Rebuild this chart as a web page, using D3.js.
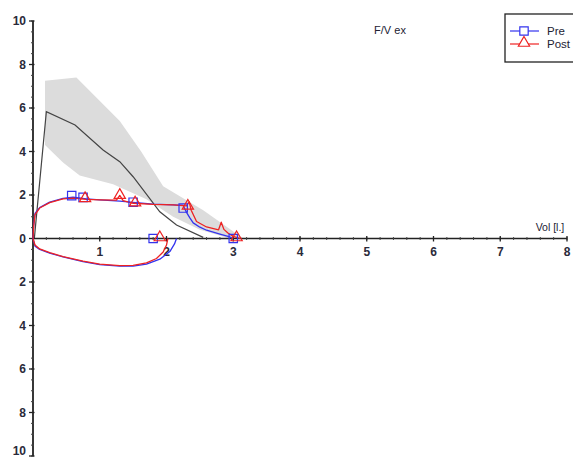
<!DOCTYPE html>
<html>
<head>
<meta charset="utf-8">
<script src="https://cdn.jsdelivr.net/npm/d3@7/dist/d3.min.js"></script>
<style>
  html, body { margin: 0; padding: 0; background: #fff; }
  svg { display: block; }
  text { font-family: "Liberation Sans", Arial, sans-serif; }
</style>
</head>
<body>
<svg id="chart" width="573" height="459"></svg>
<script>
// ---- Data ----
const xTicks = [1, 2, 3, 4, 5, 6, 7, 8];
const yTicks = [-10, -8, -6, -4, -2, 0, 2, 4, 6, 8, 10];

// predicted range band (upper edge left->right, lower edge right->left)
const bandUpperVol  = [0.18, 0.65, 1.3, 1.62, 1.95, 2.55, 3.15];
const bandUpperFlow = [7.25, 7.4, 5.4, 4.0, 2.4, 1.3, 0.0];
const bandLowerVol  = [2.95, 2.5, 2.1, 1.7, 1.2, 0.7, 0.45, 0.18];
const bandLowerFlow = [0.0, 0.4, 1.0, 1.8, 2.5, 2.9, 3.5, 4.3];

// predicted curve
const predVol  = [0.02, 0.2, 0.63, 1.05, 1.3, 1.5, 1.9, 2.15, 2.55];
const predFlow = [0.0, 5.83, 5.22, 4.07, 3.53, 2.84, 1.23, 0.62, 0.05];

// Pre (blue) loop: expiration then inspiration
const preExpVol  = [0, 0.01, 0.03, 0.1, 0.25, 0.45, 0.6, 0.8, 1.0, 1.3, 1.5, 1.8, 2.1, 2.25, 2.3, 2.35, 2.4, 2.5, 2.6, 2.8, 2.95, 3.0];
const preExpFlow = [0, 0.6, 1.15, 1.42, 1.67, 1.84, 1.9, 1.82, 1.78, 1.72, 1.66, 1.58, 1.55, 1.52, 1.2, 0.95, 0.72, 0.52, 0.38, 0.2, 0.07, 0];
const preInsVol  = [0, 0.03, 0.1, 0.25, 0.45, 0.75, 1.0, 1.3, 1.5, 1.7, 1.9, 2.05, 2.12, 2.15];
const preInsFlow = [0, -0.35, -0.5, -0.67, -0.85, -1.06, -1.2, -1.27, -1.27, -1.18, -0.95, -0.6, -0.25, 0];

// Post (red) loop
const postExpVol  = [0, 0.01, 0.03, 0.1, 0.25, 0.45, 0.6, 0.8, 1.0, 1.25, 1.3, 1.35, 1.5, 1.8, 2.1, 2.3, 2.34, 2.37, 2.45, 2.6, 2.78, 2.82, 2.86, 2.92, 3.0, 3.1];
const postExpFlow = [0, 0.55, 1.1, 1.4, 1.65, 1.82, 1.86, 1.8, 1.78, 1.76, 1.98, 1.74, 1.62, 1.57, 1.55, 1.5, 1.68, 1.3, 0.78, 0.53, 0.4, 0.75, 0.42, 0.25, 0.1, 0];
const postInsVol  = [0, 0.03, 0.1, 0.25, 0.45, 0.75, 1.0, 1.3, 1.5, 1.7, 1.85, 1.95, 2.0, 2.02];
const postInsFlow = [0, -0.3, -0.48, -0.65, -0.83, -1.04, -1.18, -1.25, -1.24, -1.12, -0.92, -0.62, -0.3, 0];

// markers
const preMarkVol   = [0.58, 0.75, 1.5, 2.25, 1.8, 3.0];
const preMarkFlow  = [1.97, 1.89, 1.67, 1.4, 0, 0];
const postMarkVol  = [0.78, 1.3, 1.53, 2.32, 1.9, 3.05];
const postMarkFlow = [1.8, 1.95, 1.6, 1.45, 0, 0];

const seriesNames = ["Pre", "Post"];
const seriesColors = ["#3333ee", "#ee2222"];
const titleText = "F/V ex";
const xAxisLabel = "Vol [l.]";

// ---- Chart ----
const svg = d3.select("#chart");
const x = d3.scaleLinear().domain([0, 8]).range([33, 567]);
const y = d3.scaleLinear().domain([-10, 10]).range([456, 21]);
const zip = (a, b) => a.map((v, i) => [v, b[i]]);
const line = d3.line().x(d => x(d[0])).y(d => y(d[1]));

// band
const bandPts = zip(bandUpperVol, bandUpperFlow).concat(zip(bandLowerVol, bandLowerFlow));
svg.append("path").attr("d", line(bandPts) + "Z").attr("fill", "#dcdcdc").attr("stroke", "none");

// predicted
svg.append("path").attr("d", line(zip(predVol, predFlow)))
  .attr("fill", "none").attr("stroke", "#444").attr("stroke-width", 1.2);

// axes
const fmt = d => String(Math.abs(d));
const xAxis = svg.append("g").attr("transform", `translate(0,${y(0)})`);
xAxis.append("line").attr("x1", x(0)).attr("x2", x(8)).attr("stroke", "#222").attr("stroke-width", 1.6);
xAxis.selectAll(".minor").data(d3.range(0, 8.001, 0.2)).join("line")
  .attr("x1", d => x(d)).attr("x2", d => x(d)).attr("y1", -1.5).attr("y2", 1.5)
  .attr("stroke", "#444").attr("stroke-width", 1);
xAxis.selectAll(".major").data(xTicks).join("line")
  .attr("x1", d => x(d)).attr("x2", d => x(d)).attr("y1", -2.5).attr("y2", 3)
  .attr("stroke", "#222").attr("stroke-width", 1.3);
xAxis.selectAll(".lbl").data(xTicks).join("text")
  .attr("x", d => x(d)).attr("y", 17).attr("text-anchor", "middle")
  .attr("font-size", 12).attr("font-weight", "bold").attr("fill", "#2a2a3a").text(fmt);

const yAxis = svg.append("g").attr("transform", `translate(${x(0)},0)`);
yAxis.append("line").attr("y1", y(10)).attr("y2", y(-10)).attr("stroke", "#222").attr("stroke-width", 1.8);
yAxis.selectAll(".minor").data(d3.range(-10, 10.001, 0.5)).join("line")
  .attr("y1", d => y(d)).attr("y2", d => y(d)).attr("x1", -2).attr("x2", 1)
  .attr("stroke", "#444").attr("stroke-width", 1);
yAxis.selectAll(".major").data(yTicks).join("line")
  .attr("y1", d => y(d)).attr("y2", d => y(d)).attr("x1", -4).attr("x2", 1.5)
  .attr("stroke", "#222").attr("stroke-width", 1.3);
yAxis.selectAll(".lbl").data(yTicks).join("text")
  .attr("x", -7).attr("y", d => Math.min(y(d) + 4, 455)).attr("text-anchor", "end")
  .attr("font-size", 12).attr("font-weight", "bold").attr("fill", "#2a2a3a").text(fmt);

// loops
function drawSeries(parts, color) {
  parts.forEach(p => {
    svg.append("path").attr("d", line(p)).attr("fill", "none")
      .attr("stroke", color).attr("stroke-width", 1.3).attr("stroke-linejoin", "round");
  });
}
drawSeries([zip(preExpVol, preExpFlow), zip(preInsVol, preInsFlow)], seriesColors[0]);
drawSeries([zip(postExpVol, postExpFlow), zip(postInsVol, postInsFlow)], seriesColors[1]);

const sq = d3.symbol().type(d3.symbolSquare).size(70);
const tri = d3.symbol().type(d3.symbolTriangle).size(55);
svg.selectAll(".pm").data(zip(preMarkVol, preMarkFlow)).join("path")
  .attr("transform", d => `translate(${x(d[0])},${y(d[1])})`).attr("d", sq)
  .attr("fill", "none").attr("stroke", seriesColors[0]).attr("stroke-width", 1.2);
svg.selectAll(".qm").data(zip(postMarkVol, postMarkFlow)).join("path")
  .attr("transform", d => `translate(${x(d[0])},${y(d[1]) - 1})`).attr("d", tri)
  .attr("fill", "none").attr("stroke", seriesColors[1]).attr("stroke-width", 1.2);

// title
svg.append("text").attr("x", 390).attr("y", 34).attr("text-anchor", "middle")
  .attr("font-size", 11).attr("fill", "#223").text(titleText);
// x label
svg.append("text").attr("x", 550).attr("y", 231).attr("text-anchor", "middle")
  .attr("font-size", 10.5).attr("fill", "#223").text(xAxisLabel);

// legend
const lg = svg.append("g");
lg.append("rect").attr("x", 505).attr("y", 14).attr("width", 80).attr("height", 48)
  .attr("fill", "#fff").attr("stroke", "#222").attr("stroke-width", 1.3);
seriesNames.forEach((n, i) => {
  const ly = 31 + i * 13;
  lg.append("line").attr("x1", 510).attr("x2", 539).attr("y1", ly).attr("y2", ly)
    .attr("stroke", seriesColors[i]).attr("stroke-width", 1.2);
  lg.append("path").attr("transform", `translate(524,${ly - (i ? 1 : 0)})`)
    .attr("d", i ? tri : sq).attr("fill", "#fff").attr("stroke", seriesColors[i]).attr("stroke-width", 1.2);
  lg.append("text").attr("x", 547).attr("y", ly + 4).attr("font-size", 11.5)
    .attr("fill", "#223").text(n);
});
</script>
</body>
</html>
